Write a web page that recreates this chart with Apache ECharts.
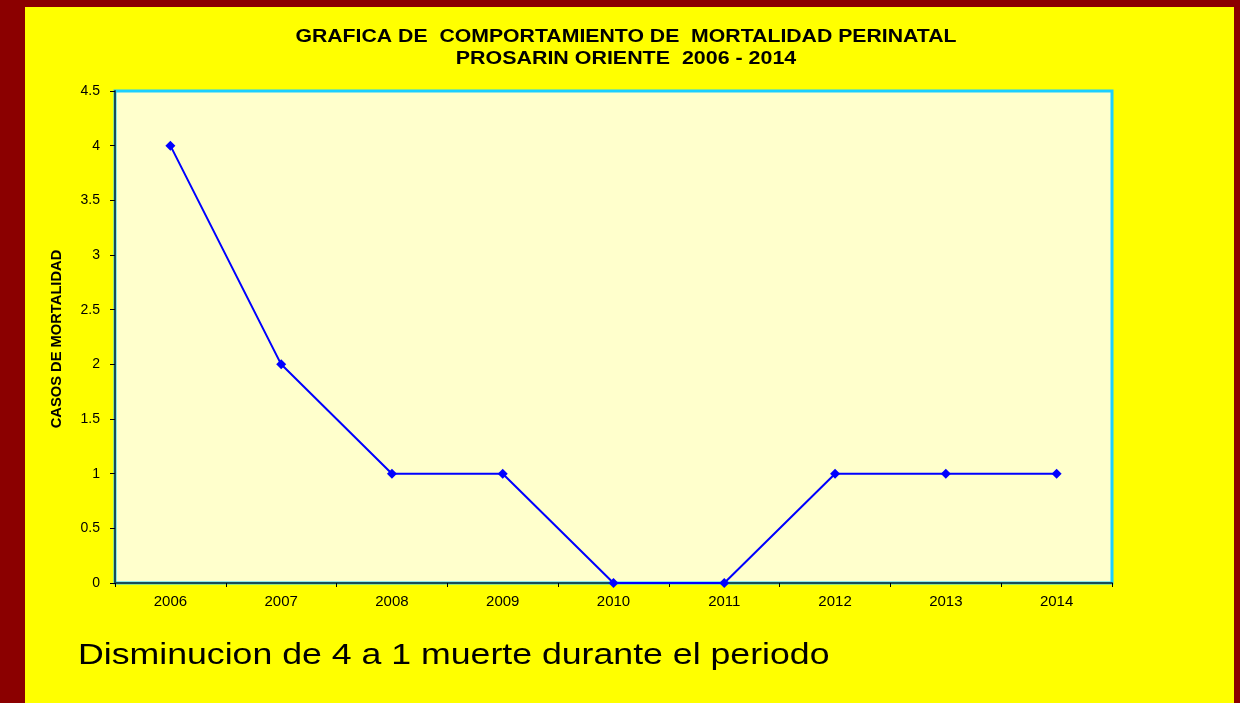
<!DOCTYPE html>
<html>
<head>
<meta charset="utf-8">
<script src="https://cdn.jsdelivr.net/npm/echarts@6/dist/echarts.min.js"></script>
<style>
  html, body { margin: 0; padding: 0; background: #8b0000; }
  #chart { width: 1240px; height: 703px; }
</style>
</head>
<body>
<div id="chart"></div>
<script>
// data
const years = ['2006', '2007', '2008', '2009', '2010', '2011', '2012', '2013', '2014'];
const casos = [4, 2, 1, 1, 0, 0, 1, 1, 1];

const titleLines = ['GRAFICA DE  COMPORTAMIENTO DE  MORTALIDAD PERINATAL', 'PROSARIN ORIENTE  2006 - 2014'];
const yName = 'CASOS DE MORTALIDAD';
const note = 'Disminucion de 4 a 1 muerte durante el periodo';

const FONT = '"Liberation Sans", Arial, sans-serif';

const chart = echarts.init(document.getElementById('chart'));

// the source slide is stretched sideways, so texts get a scaleX
const stretchedText = (text, x, y, size, bold, scaleX, align, rotation) => ({
    type: 'text',
    x: x,
    y: y,
    scaleX: scaleX,
    rotation: rotation || 0,
    style: {
        text: text,
        font: (bold ? 'bold ' : '') + size + 'px ' + FONT,
        fill: '#000',
        align: align,
        verticalAlign: 'middle'
    }
});

const option = {
    backgroundColor: '#8b0000',
    animation: false,
    graphic: [
        {
            type: 'rect',
            z: -10,
            shape: { x: 25, y: 7, width: 1209, height: 700 },
            style: { fill: '#ffff00' }
        },
        stretchedText(titleLines[0], 626, 37, 18, true, 1.18, 'center'),
        stretchedText(titleLines[1], 626, 59, 18, true, 1.19, 'center'),
        stretchedText(yName, 57, 339, 14, true, 1.05, 'center', Math.PI / 2),
        stretchedText(note, 78, 656, 29, false, 1.23, 'left')
    ],
    grid: {
        left: 115,
        top: 91,
        right: 128,
        bottom: 120,
        show: true,
        backgroundColor: '#ffffcc',
        borderColor: '#1ccfff',
        borderWidth: 3
    },
    xAxis: {
        type: 'category',
        data: years,
        boundaryGap: true,
        axisLine: { lineStyle: { color: '#1a4a5a', width: 2 } },
        axisTick: { show: true, length: 4, lineStyle: { color: '#000' } },
        axisLabel: {
            margin: 11,
            fontFamily: FONT,
            fontSize: 15,
            color: '#000'
        },
        splitLine: { show: false }
    },
    yAxis: {
        type: 'value',
        min: 0,
        max: 4.5,
        interval: 0.5,
        axisLine: { show: true, lineStyle: { color: '#1a4a5a', width: 2 } },
        axisTick: { show: true, length: 5, lineStyle: { color: '#000' } },
        axisLabel: {
            margin: 15,
            fontFamily: FONT,
            fontSize: 14,
            color: '#000'
        },
        splitLine: { show: false }
    },
    series: [
        {
            type: 'line',
            data: casos,
            symbol: 'diamond',
            symbolSize: 10,
            lineStyle: { color: '#0000ff', width: 2 },
            itemStyle: { color: '#0000ff' }
        }
    ]
};

chart.setOption(option);
</script>
</body>
</html>
